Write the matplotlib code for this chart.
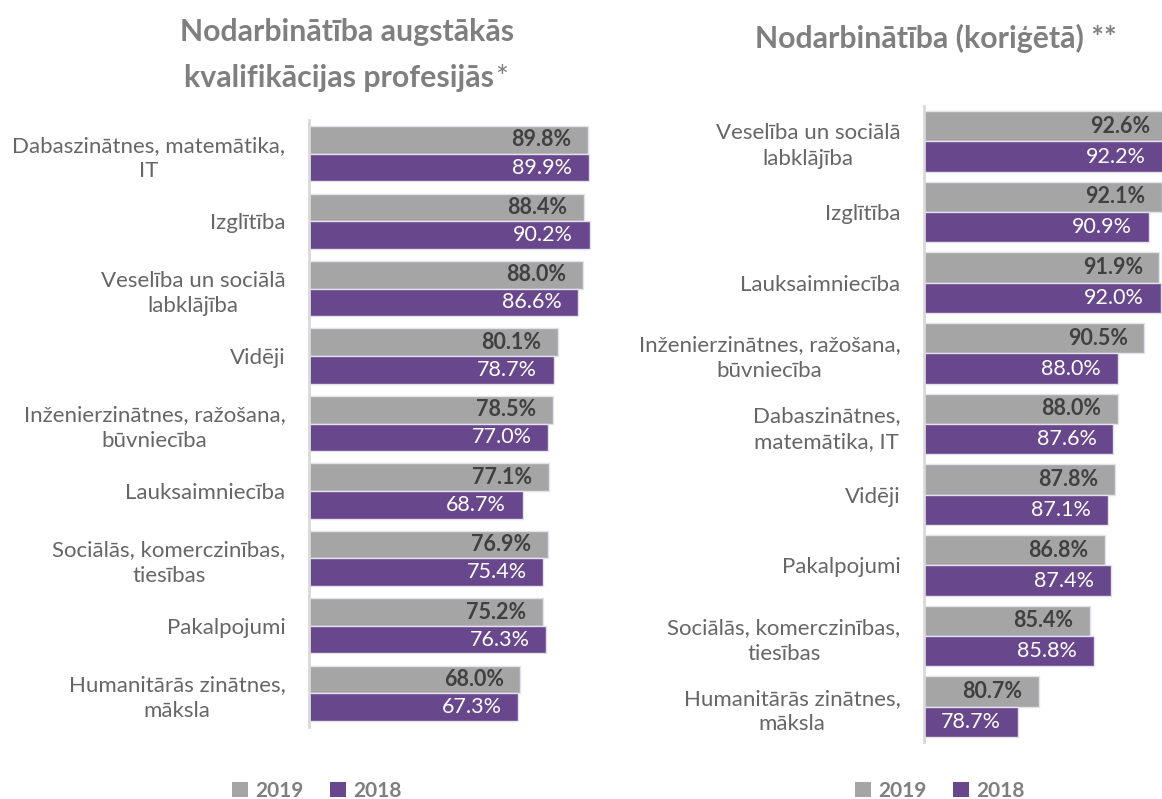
import matplotlib
matplotlib.use("Agg")
import matplotlib.pyplot as plt
from matplotlib.patches import Patch
import numpy as np

plt.rcParams['font.family'] = ['Lato', 'DejaVu Sans']

# ---------------- data ----------------
left_categories = [
    "Dabaszinātnes, matemātika,\nIT",
    "Izglītība",
    "Veselība un sociālā\nlabklājība",
    "Vidēji",
    "Inženierzinātnes, ražošana,\nbūvniecība",
    "Lauksaimniecība",
    "Sociālās, komerczinības,\ntiesības",
    "Pakalpojumi",
    "Humanitārās zinātnes,\nmāksla",
]
left_2019 = [89.8, 88.4, 88.0, 80.1, 78.5, 77.1, 76.9, 75.2, 68.0]
left_2018 = [89.9, 90.2, 86.6, 78.7, 77.0, 68.7, 75.4, 76.3, 67.3]

right_categories = [
    "Veselība un sociālā\nlabklājība",
    "Izglītība",
    "Lauksaimniecība",
    "Inženierzinātnes, ražošana,\nbūvniecība",
    "Dabaszinātnes,\nmatemātika, IT",
    "Vidēji",
    "Pakalpojumi",
    "Sociālās, komerczinības,\ntiesības",
    "Humanitārās zinātnes,\nmāksla",
]
right_2019 = [92.6, 92.1, 91.9, 90.5, 88.0, 87.8, 86.8, 85.4, 80.7]
right_2018 = [92.2, 90.9, 92.0, 88.0, 87.6, 87.1, 87.4, 85.8, 78.7]

series_names = ["2019", "2018"]
left_title_l1 = "Nodarbinātība augstākās"
left_title_l2 = "kvalifikācijas profesijās"
right_title = "Nodarbinātība (koriģētā) **"

# ---------------- style ----------------
GRAY = "#A5A5A5"
PURPLE = "#68478D"
EDGE = "#E4E0EC"
CAT_COLOR = "#666666"
TITLE_COLOR = "#7F7F7F"
DARK = "#404040"

W, H = 1162, 799
fig = plt.figure(figsize=(W / 100, H / 100), dpi=100)


def px_axes(x0, y_top, x1, y_bot):
    return fig.add_axes([x0 / W, 1 - y_bot / H, (x1 - x0) / W, (y_bot - y_top) / H])


def draw(ax, cats, v19, v18, xmin, xmax, bh):
    n = len(cats)
    y = np.arange(n)
    ax.barh(y - bh / 2, v19, height=bh,
            color=GRAY, edgecolor=EDGE, linewidth=1.0, zorder=2)
    ax.barh(y + bh / 2, v18, height=bh,
            color=PURPLE, edgecolor=EDGE, linewidth=1.0, zorder=2)
    ax.set_xlim(xmin, xmax)
    ax.set_ylim(n - 0.5, -0.5)
    ax.set_yticks(y)
    ax.set_yticklabels(cats, fontsize=16, color=CAT_COLOR,
                       multialignment='center', linespacing=1.35)
    ax.tick_params(axis='y', length=0, pad=17)
    ax.set_xticks([])
    for s in ['top', 'right', 'bottom']:
        ax.spines[s].set_visible(False)
    ax.spines['left'].set_color('#D9D9D9')
    ax.spines['left'].set_linewidth(2)
    ax.spines['left'].set_zorder(3)
    for i in range(n):
        ax.annotate(f"{v19[i]:.1f}%", xy=(v19[i], y[i] - bh / 2),
                    xytext=(-12, 0), textcoords='offset points',
                    ha='right', va='center', fontsize=15.5, fontweight='bold',
                    color=DARK, zorder=4, annotation_clip=False)
        ax.annotate(f"{v18[i]:.1f}%", xy=(v18[i], y[i] + bh / 2),
                    xytext=(-12, 0), textcoords='offset points',
                    ha='right', va='center', fontsize=15.5,
                    color='white', zorder=4, annotation_clip=False)


ax1 = px_axes(309, 120, 620, 727)
draw(ax1, left_categories, left_2019, left_2018, 0, 100, 0.41)

ax2 = px_axes(924, 106, 924 + 24 * 10.75, 742)
draw(ax2, right_categories, right_2019, right_2018, 70, 94, 0.43)

# titles
TS = 21.8
t1 = fig.text(180 / W, 1 - 41 / H, left_title_l1, ha='left', va='baseline',
              fontsize=TS, fontweight='bold', color=TITLE_COLOR)
t2 = fig.text(184 / W, 1 - 87 / H, left_title_l2, ha='left', va='baseline',
              fontsize=TS, fontweight='bold', color=TITLE_COLOR)
fig.add_artist(matplotlib.text.Annotation(
    "*", xy=(1, 0), xycoords=t2, xytext=(1, 0), textcoords='offset points',
    ha='left', va='bottom', fontsize=TS, color=TITLE_COLOR,
    annotation_clip=False))

fig.text(936 / W, 1 - 48 / H, right_title, ha='center', va='baseline',
         fontsize=TS, fontweight='bold', color=TITLE_COLOR)

# legends
handles = [Patch(facecolor=GRAY, edgecolor='none'), Patch(facecolor=PURPLE, edgecolor='none')]
for cx in (317, 940):
    fig.legend(handles, series_names, loc='center',
               bbox_to_anchor=(cx / W, 1 - 791 / H), ncol=2, frameon=False,
               handlelength=0.75, handleheight=0.75, handletextpad=0.35,
               columnspacing=1.3, labelcolor=TITLE_COLOR,
               prop={'weight': 'bold', 'size': 15})

fig.savefig("out.png", dpi=100)
